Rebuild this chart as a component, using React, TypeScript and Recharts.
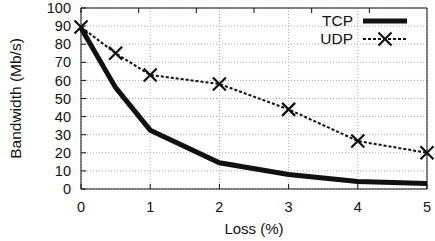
import { LineChart, Line, XAxis, YAxis, CartesianGrid, Legend } from "recharts";

const lossPct = [0, 0.5, 1, 2, 3, 4, 5];
const tcpBw = [89, 56, 32.5, 14.5, 8, 4.2, 3];
const udpBw = [89.5, 75, 63, 58, 44, 26.5, 20];
const xTicks = [0, 1, 2, 3, 4, 5];
const yTicks = [0, 10, 20, 30, 40, 50, 60, 70, 80, 90, 100];

const data = lossPct.map((x, i) => ({ loss: x, TCP: tcpBw[i], UDP: udpBw[i] }));

const FONT = "'Liberation Sans', Arial, sans-serif";

const Cross = (props: any) => {
  const { cx, cy } = props;
  if (cx == null || cy == null) return null;
  const r = 6.5;
  return (
    <g stroke="#111" strokeWidth={2.2}>
      <line x1={cx - r} y1={cy - r} x2={cx + r} y2={cy + r} />
      <line x1={cx - r} y1={cy + r} x2={cx + r} y2={cy - r} />
    </g>
  );
};

const NoTick = () => <g />;

const KeyBox = ({ payload }: any) => (
  <div style={{ fontFamily: FONT, fontSize: 15.5, color: "#111" }}>
    {(payload || []).map((p: any) => (
      <div key={p.value} style={{ display: "flex", alignItems: "center", height: 17.5 }}>
        <span style={{ width: 53, textAlign: "right", lineHeight: "17px" }}>{p.value}</span>
        <svg width={50} height={17} style={{ marginLeft: 9 }}>
          {p.value === "TCP" ? (
            <line x1={1} y1={9} x2={45} y2={9} stroke="#111" strokeWidth={5} />
          ) : (
            <>
              <line x1={1} y1={9} x2={45} y2={9} stroke="#111" strokeWidth={2} strokeDasharray="3 2" />
              <Cross cx={23} cy={9} />
            </>
          )}
        </svg>
      </div>
    ))}
  </div>
);

export default function App() {
  return (
    <div style={{ position: "absolute", left: 0, top: 0, background: "#fff" }}>
      <LineChart width={435} height={241} data={data} margin={{ top: 0, right: 0, left: 0, bottom: 0 }}>
        <CartesianGrid stroke="#aaa" strokeDasharray="1 2" />
        <XAxis
          dataKey="loss"
          type="number"
          domain={[0, 5]}
          ticks={xTicks}
          height={52}
          tickSize={-5}
          tickMargin={18}
          stroke="#111"
          tick={{ fill: "#111", fontSize: 14.5, fontFamily: FONT }}
          label={{
            content: ({ viewBox }: any) => (
              <text
                x={viewBox.x + viewBox.width / 2}
                y={viewBox.y + 44.5}
                textAnchor="middle"
                fontFamily={FONT}
                fontSize={15}
                fill="#111"
              >
                Loss (%)
              </text>
            ),
          }}
        />
        <XAxis xAxisId="t" type="number" orientation="top" domain={[0, 5]} ticks={xTicks} height={8} tickSize={-5} stroke="#111" tick={NoTick} />
        <YAxis
          type="number"
          domain={[0, 100]}
          ticks={yTicks}
          width={81}
          tickSize={-5}
          tickMargin={15}
          interval={0}
          stroke="#111"
          tick={{ fill: "#111", fontSize: 14.5, fontFamily: FONT }}
          label={{
            content: ({ viewBox }: any) => {
              const cx = viewBox.x + 15.5;
              const cy = viewBox.y + viewBox.height / 2;
              return (
                <text
                  x={cx}
                  y={cy}
                  transform={`rotate(-90 ${cx} ${cy})`}
                  textAnchor="middle"
                  dominantBaseline="central"
                  fontFamily={FONT}
                  fontSize={15.5}
                  fill="#111"
                >
                  Bandwidth (Mb/s)
                </text>
              );
            },
          }}
        />
        <YAxis yAxisId="r" type="number" orientation="right" domain={[0, 100]} ticks={yTicks} width={8} tickSize={-5} interval={0} stroke="#111" tick={NoTick} />
        <Legend
          layout="vertical"
          align="center"
          verticalAlign="middle"
          content={<KeyBox />}
          wrapperStyle={{ position: "absolute", left: 300, top: 12, width: 120 }}
        />
        <Line dataKey="TCP" stroke="#111" strokeWidth={5} dot={false} isAnimationActive={false} />
        <Line dataKey="UDP" stroke="#111" strokeWidth={2} strokeDasharray="3 2" dot={<Cross />} isAnimationActive={false} />
      </LineChart>
    </div>
  );
}
